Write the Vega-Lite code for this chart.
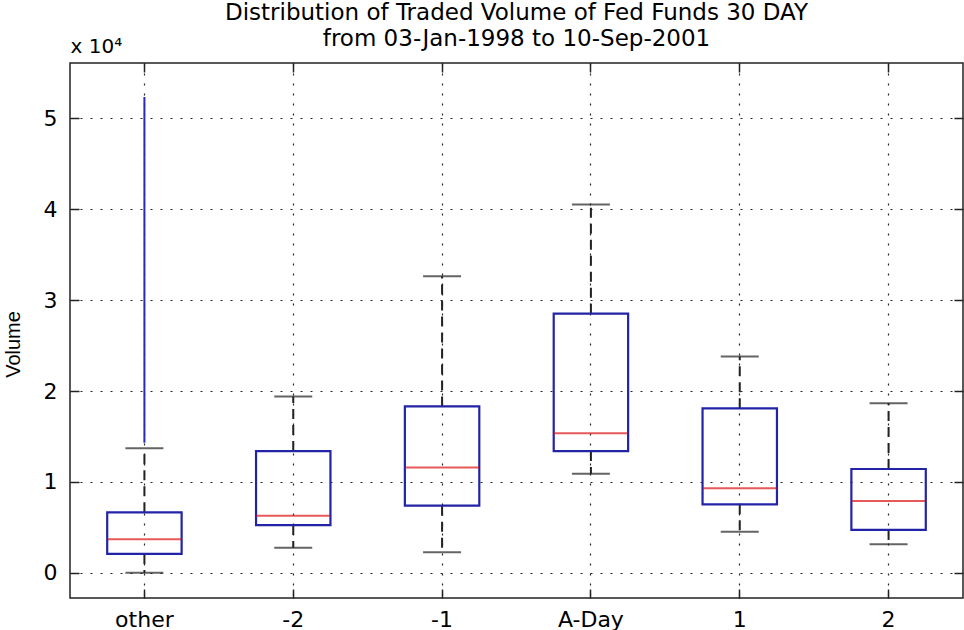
{
  "$schema": "https://vega.github.io/schema/vega-lite/v6.json",
  "width": 893,
  "height": 535,
  "autosize": {"type": "none"},
  "padding": {"left": 70, "top": 63, "right": 1, "bottom": 32},
  "background": "white",
  "config": {"view": {"stroke": "#222", "strokeWidth": 1.5}, "font": "DejaVu Sans"},
  "title": {
    "text": ["Distribution of Traded Volume of Fed Funds 30 DAY", "from 03-Jan-1998 to 10-Sep-2001"],
    "font": "DejaVu Sans",
    "fontSize": 23,
    "fontWeight": "normal",
    "color": "#000",
    "anchor": "middle",
    "frame": "group",
    "lineHeight": 26,
    "offset": 0,
    "dy": 15
  },
  "data": {
    "values": [
      {"group": "other", "lo": 30, "q1": 2090, "med": 3700, "q3": 6670, "hi": 13700, "outLo": 14300, "outHi": 52300},
      {"group": "-2", "lo": 2780, "q1": 5270, "med": 6300, "q3": 13400, "hi": 19400, "outLo": null, "outHi": null},
      {"group": "-1", "lo": 2270, "q1": 7400, "med": 11600, "q3": 18300, "hi": 32600, "outLo": null, "outHi": null},
      {"group": "A-Day", "lo": 10900, "q1": 13400, "med": 15350, "q3": 28500, "hi": 40500, "outLo": null, "outHi": null},
      {"group": "1", "lo": 4540, "q1": 7550, "med": 9300, "q3": 18100, "hi": 23800, "outLo": null, "outHi": null},
      {"group": "2", "lo": 3150, "q1": 4730, "med": 7910, "q3": 11430, "hi": 18650, "outLo": null, "outHi": null}
    ]
  },
  "resolve": {"axis": {"x": "independent", "y": "independent"}},
  "layer": [
    {
      "mark": {"type": "rule", "color": "#222", "strokeWidth": 2, "strokeDash": [10, 6]},
      "encoding": {
        "x": {
          "field": "group", "type": "nominal",
          "scale": {"type": "band", "domain": ["other", "-2", "-1", "A-Day", "1", "2"], "paddingInner": 0.5, "paddingOuter": 0.25},
          "axis": {
            "orient": "bottom", "title": null, "labelAngle": 0,
            "labelFont": "DejaVu Sans", "labelFontSize": 22, "labelColor": "#000", "labelPadding": 20,
            "tickSize": -9, "tickColor": "#222", "tickWidth": 1.5, "domain": false,
            "grid": true, "gridDash": [2, 8], "gridColor": "#000", "gridWidth": 1.2, "gridOpacity": 0.85,
            "bandPosition": 0.5
          }
        },
        "y": {
          "field": "q3", "type": "quantitative",
          "scale": {"domain": [-2750, 56050], "nice": false, "zero": false},
          "axis": {
            "orient": "left", "values": [0, 10000, 20000, 30000, 40000, 50000],
            "labelExpr": "datum.value / 10000",
            "labelFont": "DejaVu Sans", "labelFontSize": 22, "labelColor": "#000", "labelPadding": 22,
            "tickSize": -9, "tickColor": "#222", "tickWidth": 1.5, "domain": false,
            "grid": true, "gridDash": [2, 8], "gridColor": "#000", "gridWidth": 1.2, "gridOpacity": 0.85,
            "title": "Volume", "titleFont": "Liberation Sans", "titleFontSize": 20, "titleFontWeight": "normal",
            "titleColor": "#000", "titleAngle": -90, "titleX": -67, "titleY": 281, "titleBaseline": "top", "titleAlign": "center"
          }
        },
        "y2": {"field": "hi"}
      }
    },
    {
      "mark": {"type": "rule", "color": "#222", "strokeWidth": 2, "strokeDash": [10, 6]},
      "encoding": {
        "x": {
          "field": "group", "type": "nominal",
          "scale": {"type": "band", "domain": ["other", "-2", "-1", "A-Day", "1", "2"], "paddingInner": 0.5, "paddingOuter": 0.25},
          "axis": {
            "orient": "top", "labels": false, "domain": false, "grid": false,
            "tickSize": -9, "tickColor": "#222", "tickWidth": 1.5, "bandPosition": 0.5,
            "title": "x 10⁴", "titleAnchor": "start", "titleAlign": "left", "titleAngle": 0,
            "titleX": 0, "titleY": -11, "titleBaseline": "alphabetic",
            "titleFont": "DejaVu Sans", "titleFontSize": 20, "titleFontWeight": "normal", "titleColor": "#000"
          }
        },
        "y": {
          "field": "q1", "type": "quantitative",
          "scale": {"domain": [-2750, 56050], "nice": false, "zero": false},
          "axis": {
            "orient": "right", "labels": false, "domain": false, "grid": false,
            "values": [0, 10000, 20000, 30000, 40000, 50000],
            "tickSize": -9, "tickColor": "#222", "tickWidth": 1.5, "title": null
          }
        },
        "y2": {"field": "lo"}
      }
    },
    {
      "mark": {"type": "tick", "color": "#222", "thickness": 2, "size": 38},
      "encoding": {
        "x": {"field": "group", "type": "nominal", "scale": {"type": "band", "domain": ["other", "-2", "-1", "A-Day", "1", "2"], "paddingInner": 0.5, "paddingOuter": 0.25}, "axis": null},
        "y": {"field": "hi", "type": "quantitative", "scale": {"domain": [-2750, 56050], "nice": false, "zero": false}, "axis": null}
      }
    },
    {
      "mark": {"type": "tick", "color": "#222", "thickness": 2, "size": 38},
      "encoding": {
        "x": {"field": "group", "type": "nominal", "scale": {"type": "band", "domain": ["other", "-2", "-1", "A-Day", "1", "2"], "paddingInner": 0.5, "paddingOuter": 0.25}, "axis": null},
        "y": {"field": "lo", "type": "quantitative", "scale": {"domain": [-2750, 56050], "nice": false, "zero": false}, "axis": null}
      }
    },
    {
      "mark": {"type": "bar", "fill": "white", "fillOpacity": 0, "stroke": "#2323a8", "strokeWidth": 2.2},
      "encoding": {
        "x": {"field": "group", "type": "nominal", "scale": {"type": "band", "domain": ["other", "-2", "-1", "A-Day", "1", "2"], "paddingInner": 0.5, "paddingOuter": 0.25}, "axis": null},
        "y": {"field": "q3", "type": "quantitative", "scale": {"domain": [-2750, 56050], "nice": false, "zero": false}, "axis": null},
        "y2": {"field": "q1"}
      }
    },
    {
      "mark": {"type": "tick", "color": "#dd1111", "thickness": 2, "size": 74},
      "encoding": {
        "x": {"field": "group", "type": "nominal", "scale": {"type": "band", "domain": ["other", "-2", "-1", "A-Day", "1", "2"], "paddingInner": 0.5, "paddingOuter": 0.25}, "axis": null},
        "y": {"field": "med", "type": "quantitative", "scale": {"domain": [-2750, 56050], "nice": false, "zero": false}, "axis": null}
      }
    },
    {
      "transform": [{"filter": "datum.outHi != null"}],
      "mark": {"type": "rule", "color": "#2a2ab4", "strokeWidth": 2},
      "encoding": {
        "x": {"field": "group", "type": "nominal", "scale": {"type": "band", "domain": ["other", "-2", "-1", "A-Day", "1", "2"], "paddingInner": 0.5, "paddingOuter": 0.25}, "axis": null},
        "y": {"field": "outLo", "type": "quantitative", "scale": {"domain": [-2750, 56050], "nice": false, "zero": false}, "axis": null},
        "y2": {"field": "outHi"}
      }
    }
  ]
}
